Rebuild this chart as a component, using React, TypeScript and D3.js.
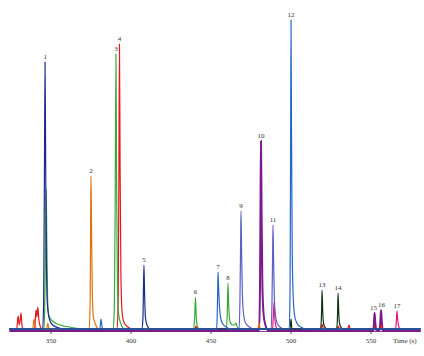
import React from "react";
import * as d3 from "d3";

type Pt = [number, number];

// x ticks (time, s)
const xTicks = [350, 400, 450, 500, 550];

// Traces: [time (s), signal]
const navy: Pt[] = [
  [324, 0], [344.8, 0], [345.4, 25], [345.9, 150], [346.3, 267], [346.7, 165], [347.2, 60], [347.8, 24], [349, 10], [351, 4], [355, 1], [360, 0],
  [406.9, 0], [407.5, 12], [407.8, 40], [408.1, 64], [408.5, 36], [409, 12], [410, 4], [412, 0], [581, 0],
];
const orange: Pt[] = [
  [324, 0], [338.6, 0], [339.4, 10], [340.1, 4], [341, 0], [347.4, 0], [348, 6], [348.8, 0],
  [373.9, 0], [374.5, 30], [374.8, 110], [375, 153], [375.3, 110], [375.8, 40], [376.5, 12], [378, 4], [380, 0],
  [479.2, 0], [480, 6], [480.8, 0], [581, 0],
];
const green: Pt[] = [
  [324, 0], [345.6, 0], [346.2, 30], [346.7, 100], [347.0, 140], [347.4, 90], [347.9, 30], [348.6, 14], [349.4, 11], [351, 8], [354, 5], [358, 3], [365, 1], [370, 0],
  [388.9, 0], [389.6, 22], [390.1, 120], [390.6, 275], [391, 150], [391.5, 50], [392.2, 16], [393.5, 6], [396, 0],
  [439.2, 0], [439.8, 12], [440.3, 32], [440.8, 12], [441.6, 2], [443, 0],
  [459.6, 0], [460.2, 18], [460.6, 46], [461.1, 22], [461.8, 8], [463.5, 4], [464.8, 4], [465.6, 6], [466.5, 2], [468, 0], [581, 0],
];
const red: Pt[] = [
  [324, 0], [328.6, 0], [329.2, 10], [329.6, 13], [330.1, 4], [330.7, 8], [331.3, 16], [331.9, 3], [332.5, 0],
  [339.8, 0], [340.4, 14], [340.7, 19], [341.2, 12], [341.8, 22], [342.4, 10], [343.2, 3], [344.5, 0],
  [391.3, 0], [392, 30], [392.4, 140], [392.8, 285], [393.2, 160], [393.7, 55], [394.4, 18], [395.5, 7], [398, 2], [401, 0],
  [439.8, 0], [440.6, 3], [441.4, 0],
  [518.6, 0], [519.4, 5], [520.2, 0], [528.6, 0], [529.4, 3], [530.2, 0], [535.4, 0], [536.2, 4], [537, 0],
  [551.4, 0], [552.2, 2], [553, 0], [555.6, 0], [556.4, 4], [557.2, 0], [581, 0],
];
const blue: Pt[] = [
  [324, 0], [380.5, 0], [381.0, 6], [381.3, 10], [381.7, 5], [382.3, 0],
  [453.5, 0], [453.9, 14], [454.2, 40], [454.4, 57], [454.8, 40], [455.4, 20], [456.2, 10], [457.4, 5], [459.5, 2], [462, 0],
  [498.9, 0], [499.4, 40], [499.7, 160], [500, 309], [500.3, 200], [500.7, 90], [501.3, 35], [502.2, 14], [503.6, 6], [506, 2], [510, 0], [581, 0],
];
const slate: Pt[] = [
  [324, 0], [467.6, 0], [468.1, 30], [468.5, 85], [468.75, 118], [469.1, 80], [469.6, 35], [470.4, 14], [471.6, 6], [474, 2], [477, 0],
  [487.6, 0], [488.1, 26], [488.5, 75], [488.75, 104], [489.1, 70], [489.6, 30], [490.4, 12], [491.6, 5], [494, 1], [496, 0], [581, 0],
];
const purple: Pt[] = [
  [324, -2], [480.1, -2], [480.6, 40], [481.0, 140], [481.25, 188], [481.6, 120], [482.1, 45], [482.9, 14], [484, 4], [486, -2],
  [551.4, -2], [551.9, 8], [552.2, 16], [552.6, 8], [553.2, -1], [555.3, -2], [555.9, 10], [556.25, 19], [556.7, 8], [557.4, -2], [581, -2],
];
const magenta: Pt[] = [
  [324, 0], [488.4, 0], [489.0, 14], [489.4, 27], [489.8, 14], [490.5, 3], [491.5, 0],
  [565.4, 0], [565.9, 10], [566.25, 18], [566.7, 9], [567.4, 2], [568.5, 0], [581, 0],
];
const dark: Pt[] = [
  [324, 0], [499.4, 0], [500, 10], [500.6, 0],
  [518.6, 0], [519.1, 18], [519.4, 39], [519.8, 18], [520.4, 5], [521.5, 1], [523, 0],
  [528.6, 0], [529.1, 16], [529.4, 36], [529.8, 17], [530.4, 5], [531.5, 1], [533, 0], [581, 0],
];

// Peak labels: name, time, height
const peakNames = ["1", "2", "3", "4", "5", "6", "7", "8", "9", "10", "11", "12", "13", "14", "15", "16", "17"];
const peakTimes = [346.5, 375, 390.6, 392.8, 408.1, 440.3, 454.4, 460.6, 468.75, 481.25, 488.75, 500, 519.4, 529.4, 551.6, 556.5, 566.25];
const peakHeights = [267, 153, 275, 285, 64, 32, 57, 46, 118, 188, 104, 309, 39, 36, 16, 19, 18];

const series: { data: Pt[]; color: string; width: number }[] = [
  { data: purple, color: "#7b1a8c", width: 2 },
  { data: red, color: "#e4181c", width: 1.2 },
  { data: magenta, color: "#e8177f", width: 1.2 },
  { data: orange, color: "#e2700f", width: 1.2 },
  { data: green, color: "#3aa83a", width: 1.2 },
  { data: slate, color: "#5c5fc4", width: 1.2 },
  { data: dark, color: "#0f2f14", width: 1.2 },
  { data: navy, color: "#1c2a8e", width: 1.2 },
  { data: blue, color: "#2566c4", width: 1.2 },
];

export default function App() {
  const W = 424, H = 356;
  const x = d3.scaleLinear().domain([324.4, 580.6]).range([10, 420]);
  const y = d3.scaleLinear().domain([0, 310]).range([329, 19]);
  const line = d3.line<Pt>().x(d => x(d[0])).y(d => y(d[1])).curve(d3.curveMonotoneX);
  const font = "'Liberation Serif', 'DejaVu Serif', serif";
  return (
    <svg width={W} height={H} style={{ position: "absolute", left: 0, top: 0, background: "#fff" }}>
      <line x1={10} x2={421} y1={331.5} y2={331.5} stroke="#8a4a9a" strokeWidth={1} />
      {xTicks.map(t => (
        <g key={t}>
          <line x1={x(t)} x2={x(t)} y1={330} y2={334} stroke="#555" strokeWidth={1} />
          <text x={x(t)} y={343} fontSize={7} fontFamily={font} textAnchor="middle" fill="#333">{t}</text>
        </g>
      ))}
      <text x={393} y={343} fontSize={7} fontFamily={font} fill="#333">Time (s)</text>
      {series.map((s, i) => (
        <path key={i} d={line(s.data) || ""} fill="none" stroke={s.color} strokeWidth={s.width} strokeLinejoin="round" />
      ))}
      {peakNames.map((n, i) => (
        <text key={n} x={x(peakTimes[i])} y={y(peakHeights[i]) - 3} fontSize={7} fontFamily={font} textAnchor="middle" fill="#333">{n}</text>
      ))}
    </svg>
  );
}
